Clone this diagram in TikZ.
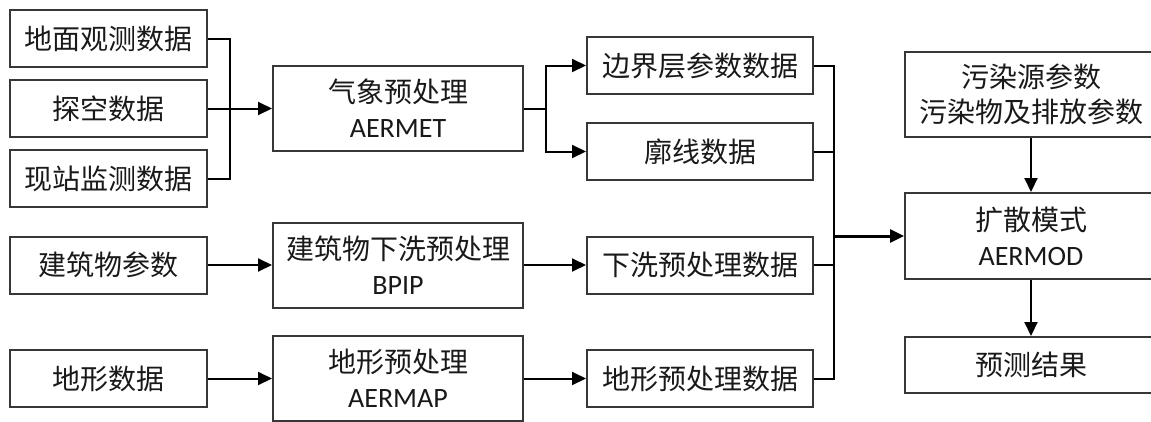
\documentclass[tikz,border=0pt]{standalone}
\usepackage{fontspec}
\setmainfont{Carlito}
\newfontfamily\cjk{Noto Sans CJK SC}
\usetikzlibrary{arrows.meta}
\definecolor{boxline}{RGB}{55,55,55}
\definecolor{txt}{RGB}{25,25,25}
\tikzset{
  box/.style={draw=boxline, line width=2pt, rectangle, inner sep=0pt, align=center,
    text=txt, font=\fontsize{28}{35}\selectfont},
  databox/.style={box, minimum width=197pt, minimum height=57pt},
  procbox/.style={box, minimum width=250pt, minimum height=85pt},
  outbox/.style={box, minimum width=226pt, minimum height=57pt},
  rbox/.style={box, minimum width=252pt},
  conn/.style={draw=black, line width=2pt},
  arr/.style={conn, -{Triangle[length=14pt,width=13pt]}},
  bigarr/.style={draw=black, line width=3pt, -{Triangle[length=14pt,width=13pt]}}
}
\begin{document}
\begin{tikzpicture}[x=1pt,y=-1pt]
\useasboundingbox (0,0) rectangle (1151,421);
\clip (0,0) rectangle (1151,421);
% left data boxes
\node[databox] (d1) at (108.5,38.5) {\cjk 地面观测数据};
\node[databox] (d2) at (108.5,108.5) {\cjk 探空数据};
\node[databox] (d3) at (108.5,178.5) {\cjk 现站监测数据};
\node[databox] (d4) at (108.5,265) {\cjk 建筑物参数};
\node[databox] (d5) at (108.5,378.5) {\cjk 地形数据};
% processing boxes
\node[procbox] (p1) at (398,108.5) {{\cjk 气象预处理}\\AERMET};
\node[procbox] (p2) at (398,265) {{\cjk 建筑物下洗预处理}\\BPIP};
\node[procbox] (p3) at (398,378) {{\cjk 地形预处理}\\AERMAP};
% output data boxes
\node[outbox] (o1) at (700,65.5) {\cjk 边界层参数数据};
\node[outbox] (o2) at (700,151.5) {\cjk 廓线数据};
\node[outbox] (o3) at (700,265) {\cjk 下洗预处理数据};
\node[outbox] (o4) at (700,378.5) {\cjk 地形预处理数据};
% right boxes
\node[rbox, minimum height=85pt] (r1) at (1031,94.5) {{\cjk 污染源参数}\\{\cjk 污染物及排放参数}};
\node[rbox, minimum height=86pt] (r2) at (1031,236) {{\cjk 扩散模式}\\AERMOD};
\node[rbox, minimum height=56pt] (r3) at (1031,365) {\cjk 预测结果};
% connectors left
\draw[conn] (d1.east) -- ++(22,0) |- (d3.east);
\draw[arr] (d2.east) -- (p1.west);
\draw[arr] (d4.east) -- (p2.west);
\draw[arr] (d5.east) -- (p3.west |- d5.east);
% AERMET split
\draw[arr] (p1.east) -- ++(22,0) |- (o1.west);
\draw[arr] (p1.east) -- ++(22,0) |- (o2.west);
\draw[arr] (p2.east) -- (o3.west);
\draw[arr] (p3.east |- o4.west) -- (o4.west);
% trunk
\path (r2.west) ++(-70,0) coordinate (t);
\draw[conn] (o1.east) -- (o1.east -| t) -- (o4.east -| t) -- (o4.east);
\draw[conn] (o2.east) -- (o2.east -| t);
\draw[conn] (o3.east) -- (o3.east -| t);
\draw[bigarr] (t) -- (r2.west);
% vertical arrows
\draw[arr] (r1.south) -- (r2.north);
\draw[arr] (r2.south) -- (r3.north);
\end{tikzpicture}
\end{document}
